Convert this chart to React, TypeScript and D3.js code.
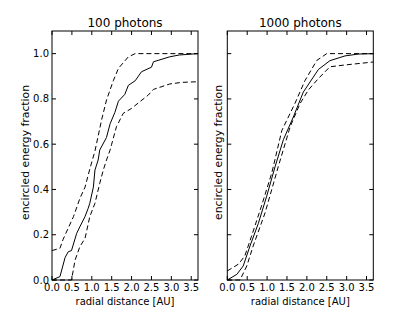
import React, { useEffect, useRef } from 'react';
import * as d3 from 'd3';

// 100 photons panel
const r100Mid = [0, 0.2, 0.33, 0.41, 0.49, 0.62, 0.7, 0.83, 0.91, 0.95, 1.04, 1.08, 1.16, 1.2, 1.37, 1.46, 1.58, 1.67, 1.83, 1.92, 2.09, 2.25, 2.5, 2.55, 2.96, 3.2, 3.67];
const e100Mid = [0, 0.015, 0.1, 0.125, 0.13, 0.206, 0.235, 0.28, 0.317, 0.339, 0.41, 0.486, 0.53, 0.574, 0.63, 0.69, 0.74, 0.79, 0.82, 0.86, 0.88, 0.92, 0.94, 0.964, 0.986, 0.994, 1.0];
const r100Hi = [0, 0.2, 0.28, 0.41, 0.54, 0.7, 0.83, 0.95, 1.08, 1.25, 1.37, 1.54, 1.67, 1.92, 2.09, 3.67];
const e100Hi = [0.13, 0.14, 0.18, 0.23, 0.28, 0.36, 0.41, 0.49, 0.57, 0.71, 0.795, 0.88, 0.935, 0.986, 1.0, 1.0];
const r100Lo = [0, 0.49, 0.58, 0.7, 0.83, 0.95, 1.08, 1.2, 1.29, 1.37, 1.46, 1.5, 1.62, 1.79, 2.0, 2.21, 2.42, 2.55, 2.96, 3.26, 3.67];
const e100Lo = [0, 0.0, 0.088, 0.147, 0.184, 0.28, 0.339, 0.427, 0.486, 0.53, 0.574, 0.6, 0.677, 0.736, 0.758, 0.788, 0.817, 0.842, 0.866, 0.873, 0.876];

// 1000 photons panel
const r1000Mid = [0, 0.24, 0.4, 0.57, 0.78, 0.99, 1.2, 1.41, 1.66, 1.91, 2.29, 2.58, 2.96, 3.29, 3.67];
const e1000Mid = [0, 0.025, 0.062, 0.15, 0.25, 0.37, 0.5, 0.62, 0.72, 0.83, 0.93, 0.969, 0.99, 0.998, 1.0];
const r1000Hi = [0, 0.28, 0.44, 0.61, 0.86, 1.12, 1.37, 1.7, 1.95, 2.25, 2.5, 3.67];
const e1000Hi = [0.04, 0.07, 0.106, 0.194, 0.327, 0.474, 0.66, 0.78, 0.88, 0.97, 1.0, 1.0];
const r1000Lo = [0, 0.32, 0.49, 0.65, 0.95, 1.28, 1.58, 1.83, 2.04, 2.29, 2.58, 2.96, 3.67];
const e1000Lo = [0, 0, 0.062, 0.15, 0.297, 0.5, 0.677, 0.78, 0.84, 0.89, 0.942, 0.95, 0.963];

const xTicks = [0, 0.5, 1, 1.5, 2, 2.5, 3, 3.5];
const yTicks = [0, 0.2, 0.4, 0.6, 0.8, 1.0];

const panels = [
  { title: '100 photons', left: 52, yLabels: true, labelOffset: 23, mid: [r100Mid, e100Mid], hi: [r100Hi, e100Hi], lo: [r100Lo, e100Lo] },
  { title: '1000 photons', left: 227.3, yLabels: false, labelOffset: 5, mid: [r1000Mid, e1000Mid], hi: [r1000Hi, e1000Hi], lo: [r1000Lo, e1000Lo] },
];

const W = 415;
const H = 312;
const top = 31;
const bottom = 280;
const pw = 146;
const font = 'DejaVu Sans, sans-serif';

export default function App() {
  const ref = useRef<SVGSVGElement>(null);

  useEffect(() => {
    const svg = d3.select(ref.current);
    svg.selectAll('*').remove();
    svg.append('rect').attr('width', W).attr('height', H).attr('fill', '#fff');

    panels.forEach((p) => {
      const x = d3.scaleLinear().domain([0, 3.67]).range([p.left, p.left + pw]);
      const y = d3.scaleLinear().domain([0, 1.1]).range([bottom, top]);
      const g = svg.append('g');

      const line = d3
        .line<[number, number]>()
        .x((d) => x(d[0]))
        .y((d) => y(d[1]));

      const drawSeries = (xs: number[], ys: number[], dashed: boolean) => {
        const pts = xs.map((v, i) => [v, ys[i]] as [number, number]);
        g.append('path')
          .attr('d', line(pts))
          .attr('fill', 'none')
          .attr('stroke', '#000')
          .attr('stroke-width', 1)
          .attr('stroke-dasharray', dashed ? '5,3' : null);
      };
      drawSeries(p.hi[0], p.hi[1], true);
      drawSeries(p.lo[0], p.lo[1], true);
      drawSeries(p.mid[0], p.mid[1], false);

      // frame
      g.append('rect')
        .attr('x', p.left)
        .attr('y', top)
        .attr('width', pw)
        .attr('height', bottom - top)
        .attr('fill', 'none')
        .attr('stroke', '#000')
        .attr('stroke-width', 1);

      // ticks inside on all sides
      xTicks.forEach((t) => {
        g.append('line').attr('x1', x(t)).attr('x2', x(t)).attr('y1', bottom).attr('y2', bottom - 4).attr('stroke', '#000');
        g.append('line').attr('x1', x(t)).attr('x2', x(t)).attr('y1', top).attr('y2', top + 4).attr('stroke', '#000');
        g.append('text')
          .attr('x', x(t))
          .attr('y', bottom + 10.5)
          .attr('text-anchor', 'middle')
          .style('font-family', font)
          .style('font-size', '10px')
          .text(t.toFixed(1));
      });
      yTicks.forEach((t) => {
        g.append('line').attr('x1', p.left).attr('x2', p.left + 4).attr('y1', y(t)).attr('y2', y(t)).attr('stroke', '#000');
        g.append('line').attr('x1', p.left + pw).attr('x2', p.left + pw - 4).attr('y1', y(t)).attr('y2', y(t)).attr('stroke', '#000');
        if (p.yLabels) {
          g.append('text')
            .attr('x', p.left - 3)
            .attr('y', y(t) + 3.5)
            .attr('text-anchor', 'end')
            .style('font-family', font)
            .style('font-size', '10px')
            .text(t.toFixed(1));
        }
      });

      g.append('text')
        .attr('x', p.left + pw / 2)
        .attr('y', top - 4)
        .attr('text-anchor', 'middle')
        .style('font-family', font)
        .style('font-size', '12px')
        .text(p.title);

      g.append('text')
        .attr('x', p.left + pw / 2)
        .attr('y', bottom + 25)
        .attr('text-anchor', 'middle')
        .style('font-family', font)
        .style('font-size', '10px')
        .text('radial distance [AU]');

      g.append('text')
        .attr('transform', `translate(${p.left - p.labelOffset},152.5) rotate(-90)`)
        .attr('text-anchor', 'middle')
        .style('font-family', font)
        .style('font-size', '10.8px')
        .text('encircled energy fraction');
    });
  }, []);

  return (
    <svg
      ref={ref}
      width={W}
      height={H}
      style={{ position: 'absolute', left: 0, top: 0 }}
    />
  );
}
